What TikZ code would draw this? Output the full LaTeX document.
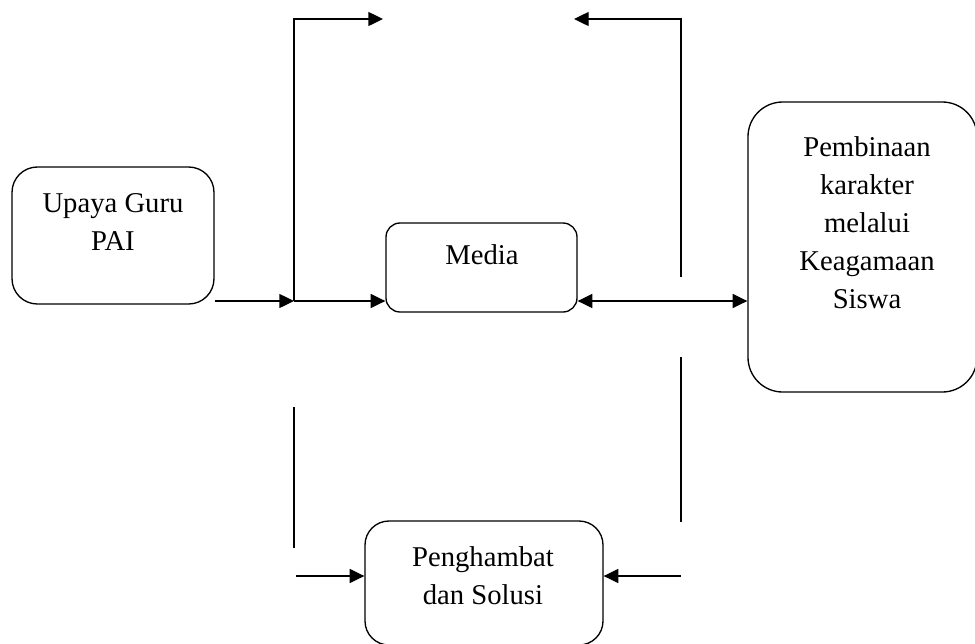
\documentclass[tikz,border=0pt]{standalone}
\usepackage{fontspec}
\setmainfont{Liberation Serif}
\usetikzlibrary{arrows.meta}
\usetikzlibrary{positioning}

\begin{document}
\begin{tikzpicture}[x=0.75pt, y=-0.75pt, line width=1pt,
        >={Triangle[length=11pt, width=10.5pt]},
        kotak/.style={draw, rounded corners=#1, inner sep=0pt},
        tulisan/.style={align=center, font=\fontsize{21.5}{28.5}\selectfont}]
            \useasboundingbox (0,0) rectangle (975,643);
            \node [kotak=19pt, minimum width=151.5pt, minimum height=102.75pt] (upaya) at (113,235.5) {};
            \node [kotak=10.5pt, minimum width=143.25pt, minimum height=66.75pt] (media) at (481.5,267.5) {};
            \node [kotak=26pt, minimum width=171.75pt, minimum height=217.5pt] (pembinaan) at (862.5,247) {};
            \node [kotak=18pt, minimum width=178.5pt, minimum height=93pt] (penghambat) at (484,583) {};
            \node [tulisan] (upayatxt) at (113,222.5) {Upaya Guru\\PAI};
            \node [tulisan] (mediatxt) at (482,255) {Media};
            \node [tulisan] (pembinaantxt) at (867,222.5) {Pembinaan\\karakter\\melalui\\Keagamaan\\Siswa};
            \node [tulisan] (penghambattxt) at (483,576) {Penghambat\\dan Solusi};
            \coordinate (j1) at (294,301);
            \coordinate (tkiri) at (383,19);
            \coordinate (tkanan) at (574,19);
            \coordinate (vkanan) at (681,277);
            \coordinate (bkiri) at (296,576);
            \coordinate (bkanan) at (681,576);
            \draw [->] (upaya.east |- j1) -- (j1);
            \draw [->] (j1) -- (media.west |- j1);
            \draw [->] (j1) |- (tkiri);
            \draw [->] (vkanan) |- (tkanan);
            \draw [<->] (media.east |- j1) -- (pembinaan.west |- j1);
            \draw [line width=1.6pt] (681,301) -- (703,301);
            \draw (294,407) -- (294,548);
            \draw (681,357) -- (681,522);
            \draw [->] (bkiri) -- (penghambat.west |- bkiri);
            \draw [->] (bkanan) -- (penghambat.east |- bkanan);
        \end{tikzpicture}
\end{document}
